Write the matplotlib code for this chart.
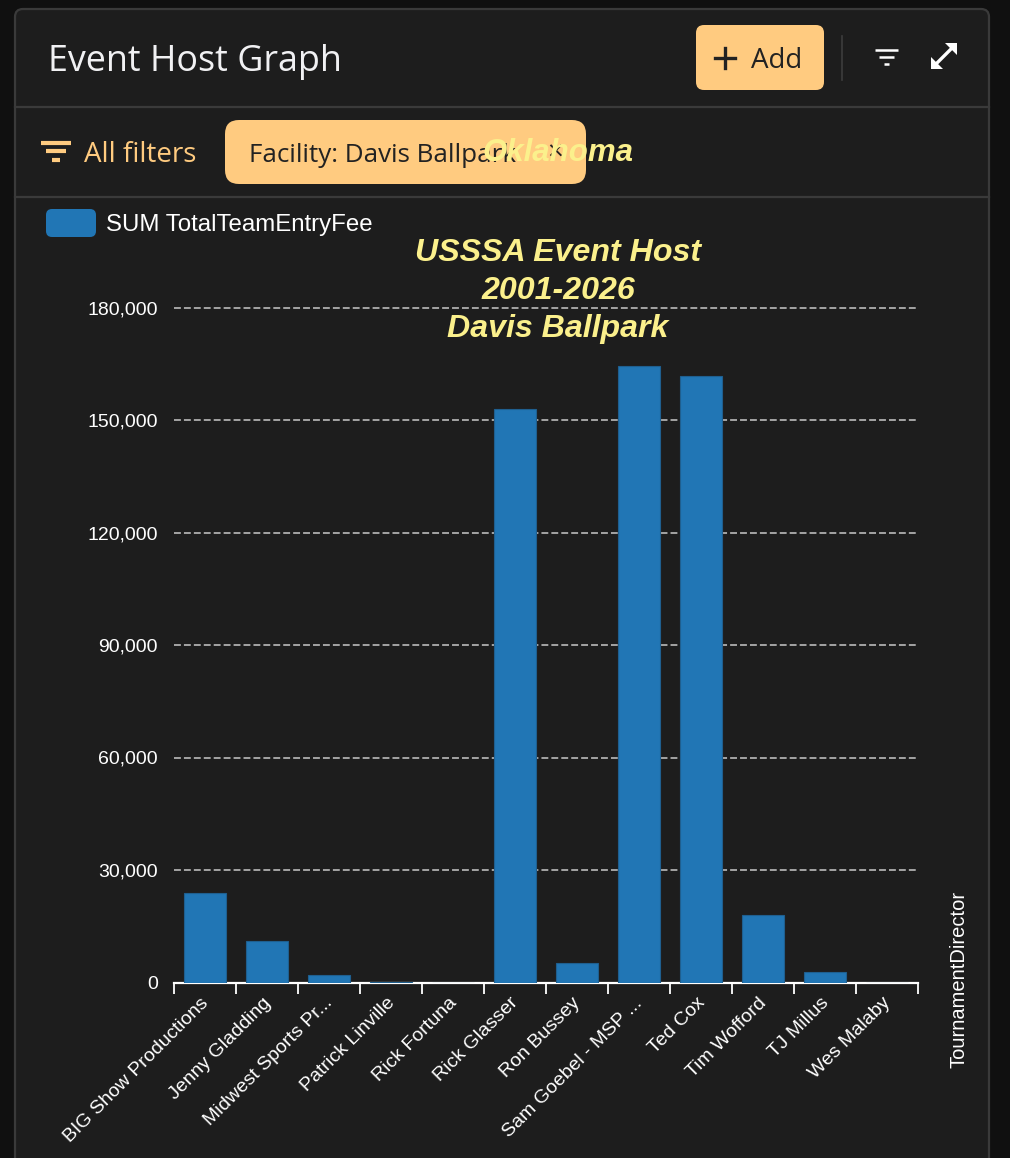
import matplotlib
matplotlib.use("Agg")
import matplotlib.pyplot as plt
from matplotlib.patches import FancyBboxPatch, Polygon

directors = ["BIG Show Productions", "Jenny Gladding", "Midwest Sports Pr...", "Patrick Linville",
             "Rick Fortuna", "Rick Glasser", "Ron Bussey", "Sam Goebel - MSP ...", "Ted Cox",
             "Tim Wofford", "TJ Millus", "Wes Malaby"]
fees = [24000, 11200, 2100, 250, 0, 153000, 5100, 164300, 161700, 17900, 2900, 0]
yticks = [0, 30000, 60000, 90000, 120000, 150000, 180000]
title_lines = ["USSSA Event Host", "2001-2026", "Davis Ballpark"]

W, H = 1010, 1158
BG = "#1d1d1d"
ORANGE = "#ffcb80"
YELLOW = "#fbf08c"
BLUE = "#2176b5"
UI = "Open Sans"
CHART = "Liberation Sans"

fig = plt.figure(figsize=(W / 100, H / 100), dpi=100, facecolor="#101010")

# page chrome drawn in pixel coordinates, behind the chart
ui = fig.add_axes([0, 0, 1, 1], zorder=0)
ui.set_xlim(0, W)
ui.set_ylim(H, 0)
ui.axis("off")


def rounded(x, y, w, h, r, **kw):
    ui.add_patch(FancyBboxPatch((x + r, y + r), w - 2 * r, h - 2 * r,
                                boxstyle=f"round,pad={r},rounding_size={r}", **kw))


rounded(15, 9, 974, 1200, 8, fc=BG, ec="#3a3a3a", lw=1.6)
ui.plot([15, 989], [106.5, 106.5], color="#3a3a3a", lw=1.6)
ui.plot([15, 989], [197, 197], color="#3a3a3a", lw=1.6)
ui.plot([841.5, 841.5], [36, 80], color="#3d3d3d", lw=1.2)

ui.text(48, 62, "Event Host Graph", family=UI, color="#f1f1f3", fontsize=25.8, va="center")

rounded(696, 25, 128, 65, 8, fc=ORANGE, ec="none")
ui.plot([715, 735], [58, 58], color="#222222", lw=2.4)
ui.plot([725, 725], [48, 68], color="#222222", lw=2.4)
ui.text(751, 61, "Add", family=UI, color="#222222", fontsize=20, va="center")

# small filter icons
for x0, x1, y, c, lw in [(875, 898, 50, "white", 1.8), (879, 894, 57, "white", 1.8), (884, 889, 64, "white", 1.8),
                         (41, 71, 143, ORANGE, 3), (46, 66, 151, ORANGE, 3), (52, 60, 160, ORANGE, 3)]:
    ui.plot([x0, x1], [y, y], color=c, lw=lw, solid_capstyle="butt")

# expand arrow
ui.plot([937, 951], [63, 49], color="white", lw=2.4)
ui.add_patch(Polygon([[957, 43], [957, 55], [945, 43]], closed=True, fc="white", ec="none"))
ui.add_patch(Polygon([[931, 69], [931, 57], [943, 69]], closed=True, fc="white", ec="none"))

ui.text(84, 155, "All filters", family=UI, color=ORANGE, fontsize=20, va="center")
rounded(225, 120, 361, 64, 14, fc=ORANGE, ec="none")
ui.text(249, 155, "Facility: Davis Ballpark", family=UI, color="#222222", fontsize=18.7, va="center")
ui.text(555, 154, "\u00d7", family=UI, color="#222222", fontsize=20, ha="center", va="center")

rounded(46, 209, 50, 28, 6, fc=BLUE, ec="none")
ui.text(106, 225, "SUM TotalTeamEntryFee", family=CHART, color="white", fontsize=17.3, va="center")

ui.text(959, 979, "TournamentDirector", family=CHART, color="white", fontsize=14.5, rotation=90,
        ha="center", va="center")

# the chart itself
left, right, top, bottom = 174, 918, 307.5, 982.5
ax = fig.add_axes([left / W, 1 - bottom / H, (right - left) / W, (bottom - top) / H], zorder=1)
ax.patch.set_alpha(0)

x = range(len(directors))
ax.bar(x, fees, width=0.68, color=BLUE, edgecolor="#1f5f8f", linewidth=0.8, zorder=3)

ax.set_xlim(-0.5, len(directors) - 0.5)
ax.set_ylim(0, 180000)
ax.set_yticks(yticks)
ax.set_yticklabels([f"{v:,}" for v in yticks], family=CHART, fontsize=14, color="white")
ax.grid(axis="y", linestyle=(0, (4.5, 2)), color="#c8c8c8", linewidth=1.1, zorder=1, clip_on=False)
ax.tick_params(axis="y", length=0, pad=11.5)

# ticks sit on the band edges, labels in the middle of the band
ax.set_xticks([i - 0.5 for i in range(len(directors) + 1)])
ax.set_xticklabels([])
ax.tick_params(axis="x", length=8, width=1.3, color="white")
for i, name in enumerate(directors):
    ax.annotate(name, xy=(i, 0), xycoords=("data", "axes fraction"), xytext=(-5, -12),
                textcoords="offset pixels", rotation=45, ha="right", va="top", rotation_mode="anchor",
                family=CHART, fontsize=14, color="white")

for side in ["top", "left", "right"]:
    ax.spines[side].set_visible(False)
ax.spines["bottom"].set_color("white")
ax.spines["bottom"].set_linewidth(1.6)

# title and state name lie over everything
over = fig.add_axes([0, 0, 1, 1], zorder=2)
over.set_xlim(0, W)
over.set_ylim(H, 0)
over.axis("off")
for line, y in zip(title_lines, [253, 291, 329]):
    over.text(558, y, line, family=CHART, style="italic", weight="bold", color=YELLOW, fontsize=23.1,
              ha="center", va="center")
over.text(558, 153, "Oklahoma", family=CHART, style="italic", weight="bold", color=YELLOW, fontsize=22.5,
          ha="center", va="center")

fig.savefig("out.png", dpi=100, facecolor=fig.get_facecolor())
